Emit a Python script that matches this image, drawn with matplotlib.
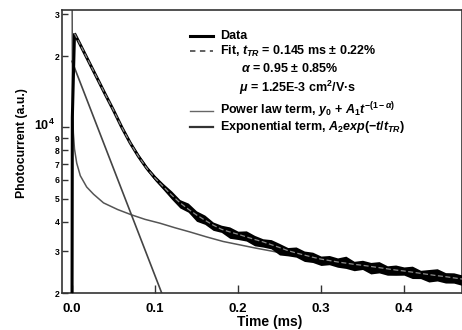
import matplotlib
matplotlib.use("Agg")
import matplotlib.pyplot as plt
from matplotlib.lines import Line2D
from matplotlib.ticker import FixedLocator, FuncFormatter
import matplotlib.transforms as mtransforms
import numpy as np

plt.rcParams['font.family'] = ['Liberation Sans', 'DejaVu Sans']
plt.rcParams['font.weight'] = 'bold'
plt.rcParams['mathtext.fontset'] = 'custom'
plt.rcParams['mathtext.rm'] = 'Liberation Sans:bold'
plt.rcParams['mathtext.it'] = 'Liberation Sans:italic:bold'
plt.rcParams['mathtext.bf'] = 'Liberation Sans:bold'

# ---- data ----
data_t = [0.0, 0.0004, 0.003, 0.01, 0.02, 0.03, 0.04, 0.05, 0.06, 0.07, 0.08, 0.09,
          0.10, 0.11, 0.12, 0.13, 0.14, 0.15, 0.16, 0.17, 0.18, 0.19,
          0.20, 0.21, 0.22, 0.23, 0.24, 0.25, 0.26, 0.27, 0.28, 0.29,
          0.30, 0.31, 0.32, 0.33, 0.34, 0.35, 0.36, 0.37, 0.38, 0.39,
          0.40, 0.41, 0.42, 0.43, 0.44, 0.45, 0.46, 0.47]
data_values = [1500, 11000, 24900, 22300, 19000, 16200, 13800, 11800, 10000, 8610, 7550, 6730,
               6110, 5620, 5180, 4810, 4520, 4270, 4060, 3870, 3715, 3620,
               3540, 3451, 3365, 3289, 3199, 3112, 3020, 2951, 2891, 2831,
               2780, 2742, 2704, 2673, 2642, 2618, 2588, 2559, 2529, 2500,
               2477, 2449, 2421, 2393, 2366, 2344, 2317, 2291]
noise_hi_pct = [0, 0, 0, 1, 1, 1, 1, 1, 1.5, 1.5, 2, 2,
                2.5, 3, 4, 3, 6, 4, 5, 3, 4, 5,
                3, 6, 4, 3, 5, 4, 3, 6, 4, 5,
                3, 5, 4, 7, 3, 5, 4, 6, 3, 5,
                4, 6, 3, 5, 7, 4, 5, 4]
noise_lo_pct = [0, 0, 0, 1, 1, 1, 1, 1, 1.5, 1.5, 2, 2,
                2.5, 3, 4, 5, 3, 6, 4, 5, 3, 6,
                5, 4, 6, 5, 4, 7, 5, 4, 6, 5,
                6, 4, 5, 5, 6, 4, 7, 5, 6, 5,
                4, 6, 5, 7, 5, 6, 5, 6]

fit_t = data_t[2:]
fit_values = data_values[2:]

power_t = [0.0001, 0.0006, 0.0016, 0.003, 0.0057, 0.010, 0.0177, 0.026, 0.038, 0.055,
           0.072, 0.088, 0.106, 0.124, 0.142, 0.162, 0.182, 0.22, 0.255, 0.30,
           0.35, 0.40, 0.47]
power_values = [40000, 13000, 9500, 8100, 7060, 6250, 5600, 5220, 4800, 4500,
                4270, 4090, 3940, 3770, 3620, 3450, 3300, 3100, 2940, 2760,
                2600, 2460, 2280]

exp_t = [0.0, 0.12]
exp_values = [19000, 1560]

x_ticks = [0.0, 0.1, 0.2, 0.3, 0.4]
x_ticklabels = ['0.0', '0.1', '0.2', '0.3', '0.4']
y_major = [1e4]
y_minor = [2e3, 3e3, 4e3, 5e3, 6e3, 7e3, 8e3, 9e3, 2e4, 3e4]

legend_labels = ['Data',
                 r'Fit, $t_{TR}$ = 0.145 ms $\pm$ 0.22%',
                 r'$\alpha$ = 0.95 $\pm$ 0.85%',
                 r'$\mu$ = 1.25E-3 cm$^{2}$/V$\bullet$s',
                 r'Power law term, $y_0$ + $A_1t^{-(1-\alpha)}$',
                 r'Exponential term, $A_2exp(-t/t_{TR})$']

# ---- figure ----
W, H = 462, 330
fig = plt.figure(figsize=(W / 100, H / 100), dpi=100)
ax = fig.add_axes([62 / W, 1 - 293 / H, 1 - 62 / W, (293 - 10) / H])

ax.set_yscale('log')
ax.set_xlim(-0.01205, 0.4699)
ax.set_ylim(2000, 31270)

dv = np.array(data_values, dtype=float)
hi = dv * (1 + np.array(noise_hi_pct) / 100)
lo = dv * (1 - np.array(noise_lo_pct) / 100)
ax.fill_between(data_t, lo, hi, color='black', lw=0, zorder=3)
ax.plot(data_t, data_values, color='black', lw=2.2, zorder=4, solid_joinstyle='miter')
ax.plot(fit_t, fit_values, color='#8a8a8a', lw=0.9, ls=(0, (4, 2)), zorder=5)
ax.plot(power_t, power_values, color='#555555', lw=1.1, zorder=2)
ax.plot(exp_t, exp_values, color='#444444', lw=1.2, zorder=2)

for s in ax.spines.values():
    s.set_color('#333333')
    s.set_linewidth(1.2)

ax.set_xticks(x_ticks)
ax.set_xticklabels(x_ticklabels)
ax.tick_params(axis='x', direction='in', length=6, width=1, color='#333333',
               labelsize=9.5, pad=7, top=False)
ax.yaxis.set_major_locator(FixedLocator(y_major))
ax.yaxis.set_minor_locator(FixedLocator(y_minor))
ax.yaxis.set_major_formatter(FuncFormatter(lambda v, p: r'10$^{4}$'))
ax.yaxis.set_minor_formatter(FuncFormatter(lambda v, p: '%d' % int(str(int(v))[0])))
ax.tick_params(axis='y', which='major', direction='in', length=5, width=1,
               color='#333333', labelsize=9, pad=5, right=False)
ax.tick_params(axis='y', which='minor', direction='in', length=4, width=1,
               color='#333333', labelsize=6.2, pad=2, right=False)
for lab in ax.get_xticklabels() + ax.get_yticklabels() + ax.get_yticklabels(minor=True):
    lab.set_fontweight('bold')
shift = mtransforms.ScaledTranslation(0, 3 / 100, fig.dpi_scale_trans)
for lab in ax.get_yticklabels():
    lab.set_transform(lab.get_transform() + shift)

fig.text(270 / W, 1 - 322 / H, 'Time (ms)', ha='center', va='center',
         fontsize=10, fontweight='bold')
fig.text(22 / W, 1 - 143 / H, 'Photocurrent (a.u.)', ha='center', va='center',
         rotation=90, fontsize=8.8, fontweight='bold')

# ---- legend (manual) ----
rows_y = [36, 51, 69, 88, 110.5, 127]
text_x = [220, 220, 241, 239, 220, 220]
styles = [dict(color='black', lw=2.2),
          dict(color='#555555', lw=1.3, ls=(0, (3, 2.5))),
          None, None,
          dict(color='#666666', lw=1.0),
          dict(color='#333333', lw=1.6)]
for y, x, lab, st in zip(rows_y, text_x, legend_labels, styles):
    if st is not None:
        fig.add_artist(Line2D([190 / W, 213 / W], [1 - y / H, 1 - y / H], **st))
    fig.text(x / W, 1 - y / H, lab, ha='left', va='center', fontsize=9,
             fontweight='bold')

fig.savefig('out.png', dpi=100)
